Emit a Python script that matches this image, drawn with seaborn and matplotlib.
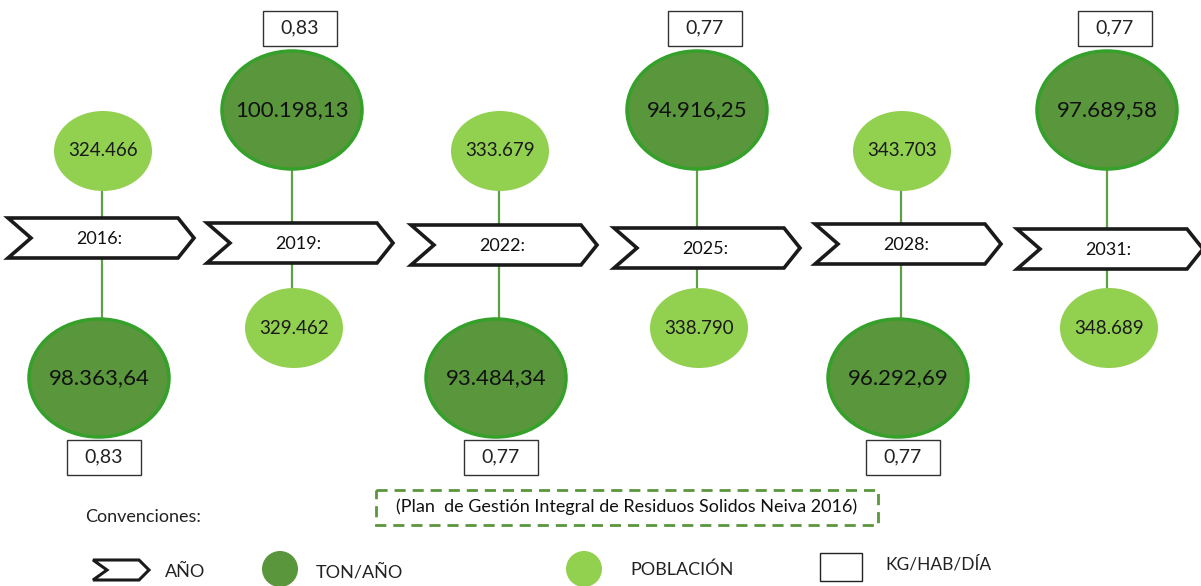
import matplotlib
matplotlib.use("Agg")
import matplotlib.pyplot as plt
import seaborn as sns
from matplotlib.patches import Ellipse, Polygon, Rectangle

# data
years = ["2016:", "2019:", "2022:", "2025:", "2028:", "2031:"]
ton_anio = [98363.64, 100198.13, 93484.34, 94916.25, 96292.69, 97689.58]
poblacion = [324466, 329462, 333679, 338790, 343703, 348689]
kg_hab_dia = [0.83, 0.83, 0.77, 0.77, 0.77, 0.77]
fuente = "(Plan  de Gestión Integral de Residuos Solidos Neiva 2016)"

# layout (pixels)
chev_x = [101, 300, 504, 707, 908, 1110]
chev_y = [238, 243, 245, 248, 244, 249]
stem_x = [102, 292, 499, 697, 901, 1107]

DARK = "#5a963c"
DARK_EDGE = "#35a02a"
LIGHT = "#92d050"
STEM = "#5f9f45"


def es_num(v, dec):
    s = f"{v:,.{dec}f}"
    return s.replace(",", "X").replace(".", ",").replace("X", ".")


sns.set_theme(style="white")
plt.rcParams["font.family"] = ["Lato", "DejaVu Sans"]

fig = plt.figure(figsize=(12.01, 5.86), dpi=100)
ax = fig.add_axes([0, 0, 1, 1])
ax.set_xlim(0, 1201)
ax.set_ylim(586, 0)
ax.axis("off")


def chevron(cx, cy, w=186, h=20, notch=23, tip=16, lw=2.6, z=5):
    x0, x1 = cx - w / 2, cx + w / 2
    pts = [(x0, cy - h), (x1 - tip, cy - h), (x1, cy), (x1 - tip, cy + h),
           (x0, cy + h), (x0 + notch, cy)]
    ax.add_patch(Polygon(pts, closed=True, facecolor="white", edgecolor="#1a1a1a",
                         lw=lw, joinstyle="miter", zorder=z))


def box(cx, cy, txt, w=74, h=35):
    ax.add_patch(Rectangle((cx - w / 2, cy - h / 2), w, h, facecolor="white",
                           edgecolor="#333333", lw=1.0, zorder=6))
    ax.text(cx, cy, txt, ha="center", va="center", fontsize=14, color="#222222", zorder=7)


for i in range(len(years)):
    cx, cy, sx = chev_x[i], chev_y[i], stem_x[i]
    ton_txt = es_num(ton_anio[i], 2)
    pob_txt = es_num(poblacion[i], 0)
    kg_txt = f"{kg_hab_dia[i]:.2f}".replace(".", ",")
    if i % 2 == 0:
        ly, dy, by = 151, 378, 457
        lx, dx = sx + 1, sx - 3
        ax.plot([sx, sx], [ly + 38, cy], color=STEM, lw=1.6, zorder=2)
        ax.plot([sx, sx], [cy, dy - 58], color=STEM, lw=1.6, zorder=2)
    else:
        ly, dy, by = 328, 110, 28
        lx, dx = sx + 2, sx
        ax.plot([sx, sx], [dy + 58, cy], color=STEM, lw=1.6, zorder=2)
        ax.plot([sx, sx], [cy, ly - 38], color=STEM, lw=1.6, zorder=2)
    ax.add_patch(Ellipse((lx, ly), 98, 80, facecolor=LIGHT, edgecolor="none", zorder=4))
    ax.text(lx, ly, pob_txt, ha="center", va="center", fontsize=13.5, color="#1a1a1a", zorder=5)
    ax.add_patch(Ellipse((dx, dy), 140, 118, facecolor=DARK, edgecolor=DARK_EDGE,
                         lw=2.5, zorder=4))
    ax.text(dx, dy, ton_txt, ha="center", va="center", fontsize=16, color="#111111", zorder=5)
    box(dx + (5 if i % 2 == 0 else 8), by, kg_txt)
    chevron(cx, cy)
    ax.text(cx - 2, cy + 1, years[i], ha="center", va="center", fontsize=13,
            color="#111111", zorder=6)

# source box
ax.add_patch(Rectangle((376, 490), 502, 35, facecolor="none", edgecolor="#5a963c",
                       lw=2.0, linestyle=(0, (4, 2.5)), zorder=3))
ax.text(627, 507, fuente, ha="center", va="center", fontsize=13, color="#111111")

# legend
ax.text(85, 517, "Convenciones:", ha="left", va="center", fontsize=13, color="#222222")
chevron(121, 570, w=56, h=10, notch=14, tip=10, lw=2.2)
ax.text(165, 572, "AÑO", ha="left", va="center", fontsize=13, color="#222222")
ax.add_patch(Ellipse((280, 569), 36, 36, facecolor=DARK, edgecolor="none"))
ax.text(316, 572, "TON/AÑO", ha="left", va="center", fontsize=13, color="#222222")
ax.add_patch(Ellipse((584, 569), 36, 36, facecolor=LIGHT, edgecolor="none"))
ax.text(630, 570, "POBLACIÓN", ha="left", va="center", fontsize=13, color="#222222")
ax.add_patch(Rectangle((820, 553), 42, 28, facecolor="white", edgecolor="#222222", lw=1.0))
ax.text(885, 564, "KG/HAB/DÍA", ha="left", va="center", fontsize=12.5, color="#222222")

fig.savefig("out.png", dpi=100, facecolor="white")
